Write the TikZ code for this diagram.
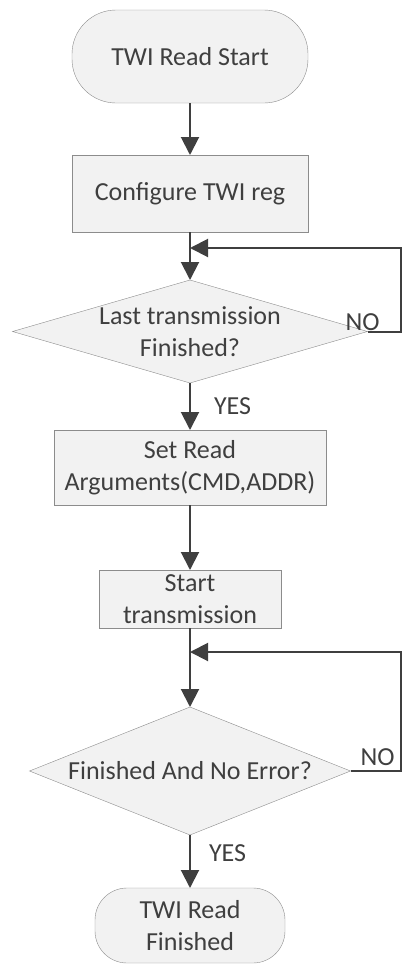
\documentclass[tikz,border=0pt]{standalone}
\usepackage{fontspec}
\setmainfont{Carlito}
\usepackage{xcolor}
\usetikzlibrary{arrows.meta,positioning,shapes.geometric}
\definecolor{edgegray}{HTML}{8C8C8C}
\definecolor{fillgray}{HTML}{F2F2F2}
\definecolor{inkgray}{HTML}{3F3F3F}

\begin{document}
\begin{tikzpicture}[
  x=1pt, y=1pt,
  font=\fontsize{26}{32}\selectfont, text=inkgray,
  box/.style={draw=edgegray, fill=fillgray, align=center, inner sep=0pt, outer sep=0pt},
  term/.style={box, rounded corners=#1},
  term/.default=44pt,
  test/.style={box, diamond, aspect=3, inner sep=-8pt},
  arr/.style={-{Triangle[length=18pt,width=18pt]}, line width=2pt, draw=inkgray},
  lbl/.style={inner sep=0pt}
]
\useasboundingbox (0,0) rectangle (409,-969);

\node[term, minimum width=236pt, minimum height=93pt] (start) at (190,-56.5) {TWI Read Start};
\node[box, minimum width=236pt, minimum height=77pt, below=52pt of start] (cfg) {Configure TWI reg};
\node[test, minimum width=355pt, minimum height=103pt, below=48pt of cfg] (q1) {Last transmission\\Finished?};
\node[box, minimum width=272pt, minimum height=75pt, below=47pt of q1] (args) {Set Read\\Arguments(CMD,ADDR)};
\node[box, minimum width=182pt, minimum height=58pt, below=65pt of args] (tx) {Start\\transmission};
\node[test, minimum width=321pt, minimum height=128pt, below=79pt of tx] (q2) {Finished And No Error?};
\node[term=32pt, minimum width=190pt, minimum height=75pt, below=53pt of q2] (fin) {TWI Read\\Finished};

% where the NO branches join the main line
\coordinate[below=16pt of cfg] (j1);
\coordinate[below=24pt of tx] (j2);
\coordinate (rx) at (401,0);

\draw[arr] (start) -- (cfg);
\draw[arr] (cfg) -- (q1);
\draw[arr] (q1) -- node[lbl, anchor=west, xshift=23pt] (yes1) {YES} (args);
\draw[arr] (args) -- (tx);
\draw[arr] (tx) -- (q2);
\draw[arr] (q2) -- node[lbl, pos=0.35, anchor=west, xshift=18pt] (yes2) {YES} (fin);

\draw[arr] (q1.east) -- (q1.east -| rx) |- (j1);
\draw[arr] (q2.east) -- (q2.east -| rx) |- (j2);
\node[lbl] (no1) at ([shift={(-5,9.5)}]q1.east) {NO};
\node[lbl] (no2) at ([shift={(27,13.5)}]q2.east) {NO};
\end{tikzpicture}
\end{document}
